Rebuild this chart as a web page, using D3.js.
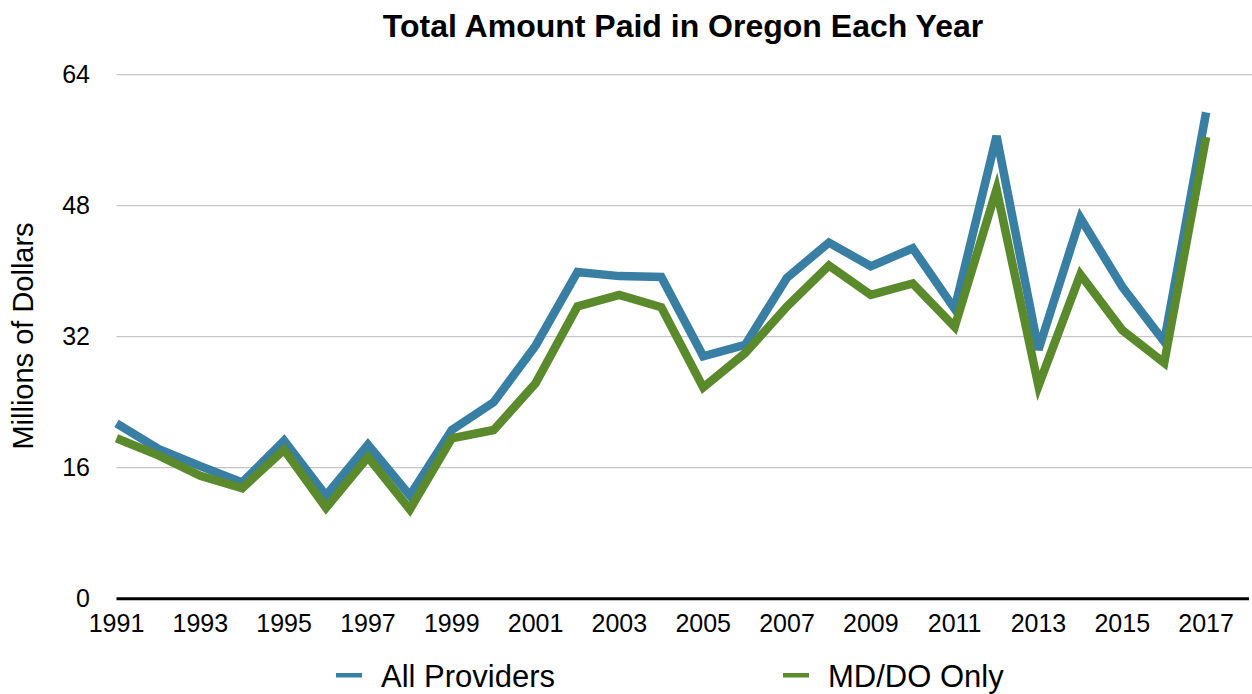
<!DOCTYPE html>
<html>
<head>
<meta charset="utf-8">
<script src="https://cdn.jsdelivr.net/npm/d3@7"></script>
<style>
  body { margin: 0; background: #fff; }
  svg text { font-family: "Liberation Sans", Arial, Helvetica, sans-serif; fill: #000; }
</style>
</head>
<body>
<svg id="chart" width="1252" height="694"></svg>
<script>
// Data (millions of dollars)
const years = d3.range(1991, 2018);
const allProviders = [21.4, 18.3, 16.2, 14.2, 19.3, 12.6, 18.8, 12.6, 20.6, 24.0, 30.9, 39.9, 39.4, 39.3,
  29.6, 31.0, 39.2, 43.5, 40.6, 42.8, 35.4, 56.5, 30.4, 46.5, 38.1, 31.4, 59.4];
const mdDoOnly = [19.6, 17.5, 15.0, 13.5, 18.2, 11.1, 17.3, 10.9, 19.6, 20.6, 26.3, 35.7, 37.1, 35.6,
  25.8, 30.0, 35.7, 40.7, 37.1, 38.5, 33.2, 50.0, 26.0, 39.6, 32.8, 28.8, 56.4];
const yTicks = [0, 16, 32, 48, 64];
const xTickYears = years.filter((d, i) => i % 2 === 0);

const series = [
  { name: "All Providers", values: allProviders, color: "#387fa3" },
  { name: "MD/DO Only", values: mdDoOnly, color: "#5a8a2b" }
];

const svg = d3.select("#chart");

const plotLeft = 116.5, plotRight = 1249, plotTop = 74.7, plotBottom = 598.7;

// each year's point sits at the left edge of its band
const x = d3.scaleBand().domain(years).range([plotLeft, plotRight - 1]);
const y = d3.scaleLinear().domain([0, 64]).range([plotBottom, plotTop]);

// gridlines
svg.append("g")
  .selectAll("line")
  .data(yTicks.filter(d => d > 0))
  .enter()
  .append("line")
  .attr("x1", plotLeft)
  .attr("x2", 1252)
  .attr("y1", d => y(d))
  .attr("y2", d => y(d))
  .attr("stroke", "#c6c6c6")
  .attr("stroke-width", 1.2);

// y tick labels
svg.append("g")
  .selectAll("text")
  .data(yTicks)
  .enter()
  .append("text")
  .attr("x", 90)
  .attr("y", d => y(d) + 8.5)
  .attr("text-anchor", "end")
  .style("font-size", "25px")
  .text(d => d);

// y axis label
svg.append("text")
  .attr("transform", `translate(33,336) rotate(-90)`)
  .attr("text-anchor", "middle")
  .style("font-size", "29px")
  .text("Millions of Dollars");

// lines
const line = d3.line()
  .x((d, i) => x(years[i]))
  .y(d => y(d));

svg.append("g")
  .selectAll("path")
  .data(series)
  .enter()
  .append("path")
  .attr("fill", "none")
  .attr("stroke", d => d.color)
  .attr("stroke-width", 8.5)
  .attr("stroke-linejoin", "miter")
  .attr("d", d => line(d.values));

// x axis baseline
svg.append("line")
  .attr("x1", plotLeft)
  .attr("x2", plotRight)
  .attr("y1", plotBottom)
  .attr("y2", plotBottom)
  .attr("stroke", "#000")
  .attr("stroke-width", 3);

// x tick labels
svg.append("g")
  .selectAll("text")
  .data(xTickYears)
  .enter()
  .append("text")
  .attr("x", d => x(d))
  .attr("y", 632)
  .attr("text-anchor", "middle")
  .style("font-size", "25px")
  .text(d => d);

// title
svg.append("text")
  .attr("x", 683)
  .attr("y", 37)
  .attr("text-anchor", "middle")
  .style("font-size", "32px")
  .style("font-weight", "bold")
  .text("Total Amount Paid in Oregon Each Year");

// legend
const legendX = [336, 783];
const legend = svg.append("g")
  .selectAll("g")
  .data(series)
  .enter()
  .append("g")
  .attr("transform", (d, i) => `translate(${legendX[i]},675)`);

legend.append("rect")
  .attr("x", 0)
  .attr("y", -2)
  .attr("width", 26)
  .attr("height", 4.5)
  .attr("fill", d => d.color);

legend.append("text")
  .attr("x", 45)
  .attr("y", 11.7)
  .style("font-size", "31px")
  .text(d => d.name);
</script>
</body>
</html>
